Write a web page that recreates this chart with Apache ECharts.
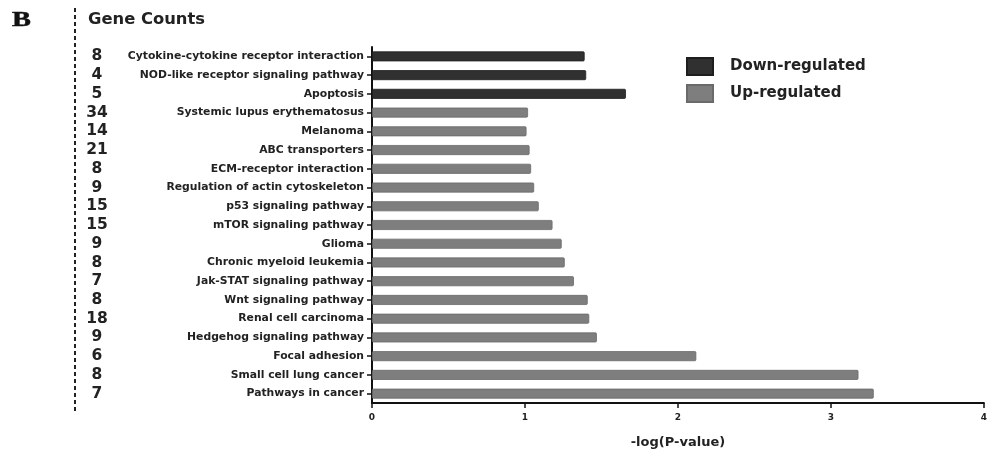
<!DOCTYPE html>
<html>
<head>
<meta charset="utf-8">
<script src="https://cdn.jsdelivr.net/npm/echarts@6/dist/echarts.min.js"></script>
<style>html,body{margin:0;padding:0;background:#fff}#c{width:990px;height:455px}</style>
</head>
<body>
<div id="c"></div>
<script>
const categories = ["Cytokine-cytokine receptor interaction","NOD-like receptor signaling pathway","Apoptosis","Systemic lupus erythematosus","Melanoma","ABC transporters","ECM-receptor interaction","Regulation of actin cytoskeleton","p53 signaling pathway","mTOR signaling pathway","Glioma","Chronic myeloid leukemia","Jak-STAT signaling pathway","Wnt signaling pathway","Renal cell carcinoma","Hedgehog signaling pathway","Focal adhesion","Small cell lung cancer","Pathways in cancer"];
const geneCounts = [8,4,5,34,14,21,8,9,15,15,9,8,7,8,18,9,6,8,7];
const downValues = [1.39,1.40,1.66,'-','-','-','-','-','-','-','-','-','-','-','-','-','-','-','-'];
const upValues = ['-','-','-',1.02,1.01,1.03,1.04,1.06,1.09,1.18,1.24,1.26,1.32,1.41,1.42,1.47,2.12,3.18,3.28];
const xTicks = [0,1,2,3,4];

const FONT = '"DejaVu Sans", "Liberation Sans", Arial, sans-serif';
const chart = echarts.init(document.getElementById('c'), null, {renderer:'canvas'});
chart.setOption({
  animation:false,
  backgroundColor:'#fff',
  textStyle:{fontFamily:FONT},
  grid:{left:372, right:4, top:47, bottom:52, containLabel:false},
  legend:{
    left:686, top:57, padding:0, orient:'vertical', itemWidth:26, itemHeight:17, itemGap:8,
    icon:'rect',
    textStyle:{fontFamily:FONT, fontWeight:'bold', fontSize:15, color:'#222', padding:[0,0,0,12]},
    data:['Down-regulated','Up-regulated']
  },
  xAxis:{
    type:'value', min:xTicks[0], max:xTicks[xTicks.length-1], interval:1,
    axisLine:{show:true, lineStyle:{color:'#111', width:2}},
    axisTick:{show:true, length:5, lineStyle:{color:'#111', width:1.5}},
    splitLine:{show:false},
    axisLabel:{fontFamily:FONT, fontWeight:'bold', fontSize:9, color:'#222', margin:10},
    name:'-log(P-value)', nameLocation:'middle', nameGap:33,
    nameTextStyle:{fontFamily:FONT, fontWeight:'bold', fontSize:13, color:'#222'}
  },
  yAxis:[{
    type:'category', data:categories, inverse:true,
    axisLine:{show:true, lineStyle:{color:'#111', width:2}},
    axisTick:{show:true, length:5, alignWithLabel:true, interval:0, lineStyle:{color:'#111', width:1.5}},
    axisLabel:{fontFamily:FONT, fontWeight:'bold', fontSize:10.8, color:'#222', margin:8, interval:0}
  },{
    type:'category', data:geneCounts, inverse:true, position:'left', offset:275,
    axisLine:{show:false}, axisTick:{show:false},
    axisLabel:{fontFamily:FONT, fontWeight:'bold', fontSize:15.5, color:'#222', margin:0, align:'center', interval:0}
  }],
  series:[{
    name:'Down-regulated', type:'bar', data:downValues, barWidth:10, barGap:'-100%',
    itemStyle:{color:'#303030', borderColor:'#1e1e1e', borderWidth:0.8, borderRadius:1}
  },{
    name:'Up-regulated', type:'bar', data:upValues, barWidth:10, barGap:'-100%',
    itemStyle:{color:'#7e7e7e', borderColor:'#6a6a6a', borderWidth:0.8, borderRadius:1}
  }],
  graphic:[
    {type:'text', x:12, y:10, scaleX:1.35, style:{text:'B', font:'bold 21px "Liberation Serif", "Times New Roman", serif', fill:'#111', stroke:'#111', lineWidth:0.5}},
    {type:'text', x:88, y:13, scaleX:1.09, style:{text:'Gene Counts', font:'bold 15px "DejaVu Sans", sans-serif', fill:'#222'}},
    {type:'line', shape:{x1:75, y1:8, x2:75, y2:412}, style:{stroke:'#222', lineWidth:2, lineDash:[4,3]}}
  ]
});
</script>
</body>
</html>
